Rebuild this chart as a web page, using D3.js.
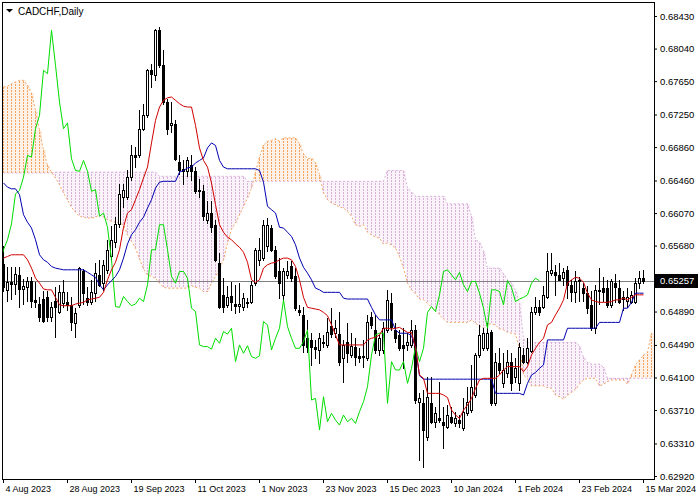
<!DOCTYPE html>
<html><head><meta charset="utf-8">
<script src="https://cdn.jsdelivr.net/npm/d3@7"></script>
<style>
html,body{margin:0;padding:0;background:#fff;}
svg{display:block;}
</style>
</head><body>
<svg id="c" width="700" height="500"></svg>
<script>
const symbolTitle = "CADCHF,Daily";

const opens = [
0.6546,0.6515,0.6524,0.6522,0.6533,0.6516,0.6518,0.6526,0.6503,0.6498,
0.6504,0.6507,0.6483,0.6502,0.6489,0.6499,0.6501,0.6497,0.6475,0.6497,
0.6537,0.6505,0.6501,0.6511,0.6533,0.6523,0.6539,0.6555,0.6572,0.6594,
0.6626,0.6626,0.6650,0.6676,0.6676,0.6708,0.6724,0.6778,0.6772,0.6826,
0.6784,0.6740,0.6712,0.6714,0.6668,0.6660,0.6657,0.6664,0.6657,0.6633,
0.6633,0.6599,0.6607,0.6593,0.6547,0.6509,0.6497,0.6508,0.6498,0.6496,
0.6495,0.6499,0.6501,0.6523,0.6551,0.6553,0.6567,0.6589,0.6563,0.6537,
0.6509,0.6533,0.6543,0.6531,0.6491,0.6485,0.6457,0.6455,0.6446,0.6443,
0.6452,0.6449,0.6472,0.6463,0.6462,0.6433,0.6453,0.6437,0.6447,0.6436,
0.6434,0.6433,0.6483,0.6467,0.6443,0.6443,0.6467,0.6499,0.6467,0.6461,
0.6449,0.6449,0.6449,0.6467,0.6381,0.6379,0.6339,0.6379,0.6357,0.6361,
0.6357,0.6351,0.6363,0.6356,0.6359,0.6349,0.6367,0.6371,0.6389,0.6437,
0.6445,0.6445,0.6465,0.6379,0.6427,0.6403,0.6415,0.6429,0.6411,0.6403,
0.6437,0.6429,0.6442,0.6488,0.6495,0.6495,0.6507,0.6535,0.6536,0.6533,
0.6529,0.6539,0.6521,0.6513,0.6527,0.6517,0.6511,0.6497,0.6469,0.6514,
0.6517,0.6517,0.6497,0.6523,0.6517,0.6506,0.6502,0.6501,0.6501,0.6523,
0.6529];
const highs = [
0.6568,0.6542,0.6542,0.6542,0.6542,0.6528,0.6530,0.6530,0.6524,0.6506,
0.6514,0.6514,0.6501,0.6518,0.6521,0.6527,0.6513,0.6507,0.6493,0.6542,
0.6540,0.6518,0.6527,0.6547,0.6551,0.6551,0.6575,0.6591,0.6602,0.6642,
0.6642,0.6658,0.6688,0.6686,0.6730,0.6738,0.6780,0.6786,0.6828,0.6830,
0.6802,0.6744,0.6740,0.6718,0.6676,0.6670,0.6674,0.6676,0.6662,0.6648,
0.6641,0.6622,0.6622,0.6599,0.6559,0.6529,0.6519,0.6524,0.6521,0.6523,
0.6511,0.6505,0.6525,0.6565,0.6577,0.6599,0.6601,0.6593,0.6567,0.6553,
0.6541,0.6549,0.6549,0.6541,0.6497,0.6495,0.6479,0.6463,0.6455,0.6463,
0.6461,0.6481,0.6493,0.6479,0.6489,0.6455,0.6475,0.6463,0.6457,0.6445,
0.6455,0.6485,0.6489,0.6485,0.6461,0.6477,0.6515,0.6511,0.6475,0.6467,
0.6469,0.6463,0.6479,0.6473,0.6391,0.6395,0.6411,0.6411,0.6375,0.6405,
0.6375,0.6377,0.6375,0.6369,0.6365,0.6385,0.6399,0.6425,0.6439,0.6473,
0.6469,0.6475,0.6467,0.6439,0.6445,0.6439,0.6443,0.6439,0.6433,0.6451,
0.6445,0.6457,0.6495,0.6507,0.6503,0.6519,0.6559,0.6559,0.6545,0.6547,
0.6541,0.6543,0.6527,0.6537,0.6530,0.6523,0.6519,0.6514,0.6521,0.6541,
0.6530,0.6527,0.6528,0.6534,0.6527,0.6514,0.6517,0.6514,0.6529,0.6537,
0.6539];
const lows = [
0.6514,0.6502,0.6504,0.6510,0.6494,0.6498,0.6502,0.6494,0.6494,0.6478,
0.6476,0.6478,0.6478,0.6459,0.6487,0.6494,0.6491,0.6467,0.6459,0.6494,
0.6498,0.6497,0.6498,0.6502,0.6519,0.6515,0.6535,0.6551,0.6566,0.6590,
0.6614,0.6624,0.6646,0.6662,0.6674,0.6706,0.6722,0.6758,0.6766,0.6782,
0.6738,0.6702,0.6704,0.6670,0.6654,0.6642,0.6651,0.6646,0.6631,0.6626,
0.6599,0.6595,0.6584,0.6549,0.6493,0.6489,0.6494,0.6491,0.6487,0.6489,
0.6491,0.6495,0.6499,0.6521,0.6545,0.6551,0.6562,0.6561,0.6529,0.6505,
0.6502,0.6529,0.6525,0.6491,0.6485,0.6440,0.6441,0.6425,0.6433,0.6427,
0.6447,0.6447,0.6459,0.6459,0.6425,0.6405,0.6429,0.6435,0.6425,0.6428,
0.6423,0.6431,0.6469,0.6439,0.6437,0.6439,0.6465,0.6467,0.6453,0.6443,
0.6421,0.6443,0.6447,0.6379,0.6311,0.6303,0.6335,0.6355,0.6351,0.6357,
0.6325,0.6349,0.6355,0.6352,0.6351,0.6347,0.6365,0.6369,0.6387,0.6435,
0.6443,0.6443,0.6377,0.6377,0.6415,0.6399,0.6411,0.6395,0.6405,0.6395,
0.6427,0.6427,0.6441,0.6486,0.6485,0.6493,0.6505,0.6533,0.6509,0.6527,
0.6521,0.6505,0.6502,0.6501,0.6502,0.6502,0.6487,0.6467,0.6463,0.6498,
0.6502,0.6494,0.6494,0.6501,0.6499,0.6491,0.6494,0.6499,0.6499,0.6517,
0.6523];
const closes = [
0.6518,0.6524,0.6522,0.6534,0.6516,0.6519,0.6526,0.6502,0.6501,0.6482,
0.6478,0.6483,0.6495,0.6494,0.6513,0.6513,0.6497,0.6477,0.6487,0.6541,
0.6511,0.6501,0.6513,0.6535,0.6521,0.6545,0.6563,0.6575,0.6594,0.6630,
0.6634,0.6650,0.6676,0.6674,0.6708,0.6724,0.6778,0.6774,0.6826,0.6784,
0.6740,0.6708,0.6715,0.6672,0.6658,0.6657,0.6670,0.6657,0.6633,0.6635,
0.6603,0.6607,0.6590,0.6551,0.6495,0.6494,0.6507,0.6501,0.6496,0.6498,
0.6505,0.6501,0.6521,0.6563,0.6563,0.6593,0.6593,0.6563,0.6531,0.6523,
0.6537,0.6537,0.6529,0.6493,0.6489,0.6449,0.6447,0.6447,0.6444,0.6457,
0.6451,0.6465,0.6462,0.6469,0.6429,0.6449,0.6439,0.6448,0.6435,0.6433,
0.6436,0.6477,0.6473,0.6443,0.6457,0.6469,0.6503,0.6471,0.6457,0.6445,
0.6445,0.6453,0.6467,0.6383,0.6385,0.6347,0.6387,0.6357,0.6367,0.6359,
0.6353,0.6365,0.6357,0.6361,0.6355,0.6369,0.6381,0.6399,0.6437,0.6461,
0.6463,0.6463,0.6379,0.6429,0.6419,0.6419,0.6429,0.6403,0.6421,0.6447,
0.6429,0.6445,0.6488,0.6495,0.6489,0.6509,0.6537,0.6539,0.6533,0.6527,
0.6536,0.6521,0.6513,0.6525,0.6525,0.6511,0.6493,0.6469,0.6515,0.6515,
0.6513,0.6497,0.6526,0.6518,0.6501,0.6504,0.6506,0.6509,0.6523,0.6529,
0.65257];

const tenkan = [
0.6553,0.6555,0.6557,0.6557,0.6557,0.6557,0.6551,0.6541,0.6529,0.6523,
0.6516,0.6515,0.6515,0.6506,0.6497,0.6496,0.6496,0.6496,0.6498,0.6499,
0.6500,0.6503,0.6504,0.6505,0.6506,0.6512,0.6527,0.6539,0.6548,0.6563,
0.6590,0.6607,0.6611,0.6623,0.6635,0.6649,0.6662,0.6691,0.6718,0.6734,
0.6742,0.6745,0.6746,0.6742,0.6738,0.6735,0.6734,0.6734,0.6712,0.6685,
0.6670,0.6662,0.6643,0.6617,0.6593,0.6584,0.6578,0.6575,0.6570,0.6566,
0.6560,0.6548,0.6527,0.6524,0.6527,0.6541,0.6545,0.6547,0.6548,0.6551,
0.6553,0.6553,0.6551,0.6543,0.6527,0.6506,0.6494,0.6493,0.6492,0.6491,
0.6488,0.6484,0.6473,0.6461,0.6449,0.6449,0.6449,0.6449,0.6449,0.6449,
0.6449,0.6455,0.6457,0.6458,0.6461,0.6469,0.6469,0.6468,0.6469,0.6470,
0.6467,0.6464,0.6464,0.6446,0.6413,0.6409,0.6391,0.6391,0.6391,0.6391,
0.6389,0.6386,0.6371,0.6365,0.6361,0.6371,0.6377,0.6385,0.6397,0.6407,
0.6409,0.6409,0.6409,0.6409,0.6413,0.6419,0.6423,0.6423,0.6423,0.6423,
0.6417,0.6423,0.6437,0.6445,0.6452,0.6457,0.6473,0.6476,0.6485,0.6493,
0.6503,0.6523,0.6527,0.6530,0.6529,0.6524,0.6511,0.6503,0.6501,0.6500,
0.6500,0.6500,0.6501,0.6503,0.6503,0.6505,0.6503,0.6506,0.6509,0.6509,
0.6509];
const kijun = [
0.6643,0.6638,0.6636,0.6636,0.6629,0.6605,0.6596,0.6589,0.6575,0.6557,
0.6551,0.6548,0.6543,0.6541,0.6540,0.6539,0.6539,0.6539,0.6539,0.6539,
0.6539,0.6536,0.6533,0.6530,0.6521,0.6515,0.6521,0.6526,0.6531,0.6539,
0.6553,0.6570,0.6581,0.6587,0.6596,0.6602,0.6613,0.6623,0.6637,0.6644,
0.6645,0.6645,0.6645,0.6645,0.6656,0.6658,0.6661,0.6662,0.6667,0.6670,
0.6673,0.6685,0.6691,0.6688,0.6670,0.6662,0.6660,0.6660,0.6660,0.6660,
0.6660,0.6660,0.6660,0.6660,0.6658,0.6644,0.6615,0.6611,0.6607,0.6590,
0.6589,0.6584,0.6579,0.6569,0.6553,0.6542,0.6535,0.6527,0.6517,0.6515,
0.6512,0.6512,0.6512,0.6512,0.6512,0.6505,0.6504,0.6504,0.6504,0.6504,
0.6504,0.6504,0.6494,0.6485,0.6479,0.6479,0.6479,0.6479,0.6467,0.6463,
0.6463,0.6463,0.6460,0.6446,0.6412,0.6408,0.6408,0.6408,0.6408,0.6408,
0.6408,0.6408,0.6408,0.6408,0.6408,0.6408,0.6408,0.6408,0.6408,0.6408,
0.6408,0.6408,0.6408,0.6391,0.6391,0.6391,0.6391,0.6391,0.6391,0.6391,
0.6389,0.6403,0.6413,0.6416,0.6421,0.6425,0.6455,0.6455,0.6455,0.6455,
0.6455,0.6469,0.6469,0.6469,0.6469,0.6469,0.6469,0.6469,0.6469,0.6476,
0.6476,0.6476,0.6476,0.6476,0.6476,0.6493,0.6493,0.6500,0.6511,0.6511,
0.6511];
const senkouA = [
0.6758,0.6759,0.6762,0.6764,0.6766,0.6766,0.6760,0.6751,0.6730,0.6706,
0.6682,0.6664,0.6656,0.6649,0.6641,0.6631,0.6623,0.6614,0.6608,0.6603,
0.6602,0.6601,0.6601,0.6602,0.6605,0.6602,0.6599,0.6597,0.6596,0.6595,
0.6593,0.6581,0.6573,0.6565,0.6552,0.6540,0.6533,0.6531,0.6529,0.6523,
0.6518,0.6517,0.6517,0.6517,0.6517,0.6517,0.6517,0.6520,0.6518,0.6517,
0.6513,0.6513,0.6523,0.6531,0.6540,0.6551,0.6571,0.6588,0.6595,0.6605,
0.6615,0.6625,0.6637,0.6656,0.6674,0.6688,0.6693,0.6694,0.6696,0.6693,
0.6697,0.6697,0.6697,0.6697,0.6690,0.6678,0.6672,0.6673,0.6667,0.6653,
0.6631,0.6623,0.6619,0.6617,0.6614,0.6613,0.6609,0.6603,0.6593,0.6591,
0.6593,0.6584,0.6581,0.6578,0.6577,0.6570,0.6571,0.6569,0.6565,0.6555,
0.6541,0.6523,0.6515,0.6510,0.6504,0.6503,0.6499,0.6494,0.6490,0.6485,
0.6480,0.6476,0.6476,0.6476,0.6476,0.6476,0.6476,0.6479,0.6475,0.6472,
0.6469,0.6474,0.6474,0.6473,0.6468,0.6467,0.6464,0.6463,0.6462,0.6445,
0.6413,0.6409,0.6400,0.6400,0.6400,0.6400,0.6398,0.6397,0.6389,0.6387,
0.6384,0.6389,0.6392,0.6396,0.6402,0.6407,0.6409,0.6409,0.6409,0.6400,
0.6402,0.6405,0.6407,0.6407,0.6407,0.6407,0.6402,0.6413,0.6425,0.6431,
0.6437,0.6440,0.6463];
const senkouB = [
0.6655,0.6655,0.6655,0.6655,0.6655,0.6655,0.6655,0.6655,0.6655,0.6655,
0.6655,0.6655,0.6655,0.6656,0.6656,0.6656,0.6656,0.6656,0.6656,0.6656,
0.6656,0.6656,0.6656,0.6656,0.6656,0.6656,0.6656,0.6656,0.6656,0.6656,
0.6656,0.6656,0.6656,0.6656,0.6656,0.6656,0.6656,0.6656,0.6656,0.6651,
0.6651,0.6651,0.6651,0.6651,0.6651,0.6651,0.6651,0.6651,0.6651,0.6651,
0.6651,0.6651,0.6651,0.6651,0.6651,0.6651,0.6651,0.6651,0.6651,0.6651,
0.6651,0.6645,0.6645,0.6645,0.6645,0.6645,0.6645,0.6645,0.6645,0.6645,
0.6645,0.6645,0.6645,0.6645,0.6645,0.6645,0.6645,0.6645,0.6645,0.6645,
0.6645,0.6645,0.6645,0.6645,0.6645,0.6645,0.6645,0.6645,0.6645,0.6645,
0.6645,0.6645,0.6645,0.6645,0.6645,0.6645,0.6658,0.6658,0.6658,0.6658,
0.6658,0.6637,0.6632,0.6627,0.6627,0.6627,0.6627,0.6627,0.6627,0.6627,
0.6627,0.6618,0.6618,0.6618,0.6618,0.6618,0.6618,0.6603,0.6575,0.6572,
0.6562,0.6541,0.6541,0.6541,0.6541,0.6534,0.6527,0.6523,0.6514,0.6500,
0.6456,0.6452,0.6452,0.6452,0.6452,0.6452,0.6452,0.6452,0.6452,0.6452,
0.6452,0.6452,0.6452,0.6452,0.6448,0.6434,0.6428,0.6426,0.6426,0.6426,
0.6422,0.6409,0.6409,0.6409,0.6409,0.6409,0.6409,0.6409,0.6409,0.6409,
0.6409,0.6409,0.6409];
const chikouShift = 26;

const priceTicks = [0.68430,0.68040,0.67650,0.67250,0.66860,0.66460,0.66070,0.65680,
                    0.64890,0.64490,0.64100,0.63710,0.63310,0.62920];
const lastPrice = 0.65257;
const dateLabels = ["4 Aug 2023","28 Aug 2023","19 Sep 2023","11 Oct 2023","1 Nov 2023",
  "23 Nov 2023","15 Dec 2023","10 Jan 2024","1 Feb 2024","23 Feb 2024","15 Mar 2024"];
const dateLabelBars = [0,16,32,48,64,80,96,112,128,144,160];

const FONT = "'Liberation Sans', Arial, sans-serif";
const COL_UP = "#f4a460", COL_DN = "#d8b0d8";
const TINT_UP = "#fef2e8", TINT_DN = "#faf4fa";
const svg = d3.select("#c");
const x = d3.scaleLinear().domain([0,162]).range([3,651]);
const y = d3.scaleLinear().domain([0.62884,0.68598]).range([479,2]);
const cxp = i => Math.round(x(i));

svg.append("rect").attr("width",700).attr("height",500).attr("fill","#fff");
svg.append("defs").append("clipPath").attr("id","clip")
  .append("rect").attr("x",3).attr("y",3).attr("width",651).attr("height",476);
const g = svg.append("g").attr("clip-path","url(#clip)");

// cloud between span A and span B: light tint + dotted vertical hatch per bar
const cloudIdx = d3.range(senkouA.length);
const isUp = i => senkouA[i] >= senkouB[i];
const topY = i => Math.round(Math.min(y(senkouA[i]),y(senkouB[i])));
const botY = i => Math.round(Math.max(y(senkouA[i]),y(senkouB[i])));
g.append("g").attr("shape-rendering","crispEdges").selectAll("rect").data(cloudIdx).join("rect")
  .attr("x",i=>cxp(i)-1).attr("width",4)
  .attr("y",topY).attr("height",i=>botY(i)-topY(i))
  .attr("fill",i=>isUp(i)?TINT_UP:TINT_DN);
g.append("g").attr("shape-rendering","crispEdges").selectAll("line").data(cloudIdx).join("line")
  .attr("x1",i=>cxp(i)+0.5).attr("x2",i=>cxp(i)+0.5)
  .attr("y1",topY).attr("y2",botY)
  .style("stroke",i=>isUp(i)?COL_UP:COL_DN)
  .style("stroke-width","1px")
  .style("stroke-dasharray","2,1")
  .style("stroke-dashoffset",i=>topY(i)%3);

const lineOf = (arr, shift=0) => d3.line().x((d,i)=>x(i-shift)+0.5).y(d=>y(d))(arr);
g.append("path").attr("d",lineOf(senkouA)).attr("fill","none")
  .style("stroke",COL_UP).style("stroke-width","1px").style("stroke-dasharray","2,2");
g.append("path").attr("d",lineOf(senkouB)).attr("fill","none")
  .style("stroke",COL_DN).style("stroke-width","1px").style("stroke-dasharray","2,2");

// price line
g.append("line").attr("x1",2).attr("x2",654)
  .attr("y1",Math.round(y(lastPrice))+0.5).attr("y2",Math.round(y(lastPrice))+0.5)
  .attr("stroke","#808080").attr("stroke-width",1);

// candles
const bars = d3.range(closes.length);
const cg = g.append("g").attr("shape-rendering","crispEdges");
cg.selectAll("line").data(bars).join("line")
  .attr("x1",i=>cxp(i)+0.5).attr("x2",i=>cxp(i)+0.5)
  .attr("y1",i=>Math.round(y(highs[i]))).attr("y2",i=>Math.round(y(lows[i]))+1)
  .attr("stroke","#000").attr("stroke-width",1);
cg.selectAll("rect").data(bars).join("rect")
  .attr("x",i=>cxp(i)-0.5).attr("width",2)
  .attr("y",i=>Math.round(y(Math.max(opens[i],closes[i])))+0.5)
  .attr("height",i=>Math.round(y(Math.min(opens[i],closes[i])))-Math.round(y(Math.max(opens[i],closes[i]))))
  .attr("fill",i=>closes[i]<opens[i]?"#000":"#fff")
  .attr("stroke","#000").attr("stroke-width",1);

// indicator lines
g.append("path").attr("d",lineOf(closes,chikouShift)).attr("fill","none")
  .attr("stroke","#00dd00").attr("stroke-width",1);
g.append("path").attr("d",lineOf(kijun)).attr("fill","none")
  .attr("stroke","#0000b0").attr("stroke-width",1);
g.append("path").attr("d",lineOf(tenkan)).attr("fill","none")
  .attr("stroke","#d00000").attr("stroke-width",1);

// frame
svg.append("rect").attr("x",2.5).attr("y",2.5).attr("width",652).attr("height",477)
  .attr("fill","none").attr("stroke","#000").attr("stroke-width",1).attr("shape-rendering","crispEdges");

// y axis
const ya = svg.append("g").attr("transform","translate(654,0)")
  .call(d3.axisRight(y).tickValues(priceTicks).tickSize(3).tickSizeOuter(0).tickPadding(3)
  .tickFormat(d3.format(".5f")));
ya.select(".domain").remove();
ya.attr("font-family",FONT).attr("font-size",9.5);
ya.selectAll("text").attr("fill","#000");

// current price label
const ly = Math.round(y(lastPrice));
svg.append("rect").attr("x",655).attr("y",ly-7).attr("width",43).attr("height",14).attr("fill","#000");
svg.append("text").attr("x",660).attr("y",ly).attr("dy","0.35em")
  .attr("font-family",FONT).attr("font-size",9.5).attr("fill","#fff").text(lastPrice.toFixed(5));

// x axis
const xa = svg.append("g").attr("transform","translate(0,479)")
  .call(d3.axisBottom(x).tickValues(dateLabelBars).tickSize(4).tickSizeOuter(0).tickPadding(3)
  .tickFormat((d,i)=>dateLabels[i]));
xa.select(".domain").remove();
xa.attr("font-family",FONT).attr("font-size",9);
xa.selectAll("text").attr("text-anchor","start").attr("x",2).attr("fill","#000");

// title
svg.append("path").attr("d","M6,9 L13,9 L9.5,12.5 Z").attr("fill","#000");
svg.append("text").attr("x",18).attr("y",15).attr("font-family",FONT).attr("font-size",10)
  .attr("fill","#000").text(symbolTitle);
</script>
</body></html>
